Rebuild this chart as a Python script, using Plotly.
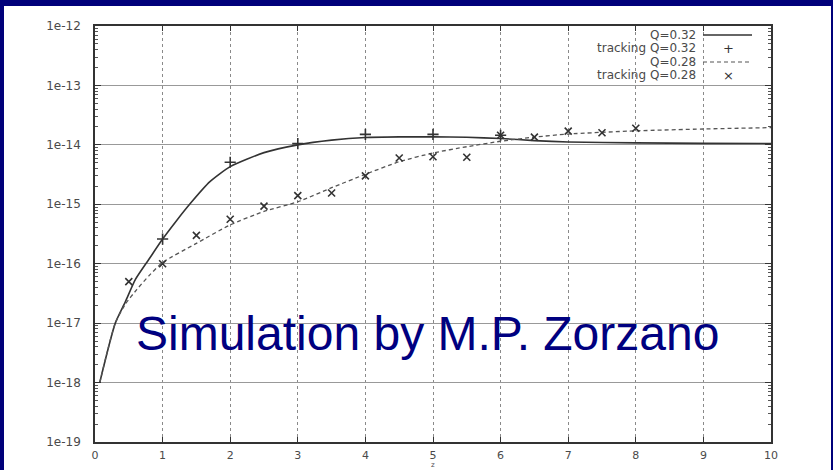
import plotly.graph_objects as go

# ---- data -------------------------------------------------------------
x_q32 = [0.07, 0.3, 0.45, 0.6, 0.8, 1.0, 1.2, 1.4, 1.7, 2.0, 2.5, 3.0, 3.5,
         4.0, 4.5, 5.0, 5.5, 6.0, 6.5, 7.0, 8.0, 9.0, 10.0]
y_q32 = [1e-18, 1e-17, 2.3e-17, 5.5e-17, 1.2e-16, 2.6e-16, 5.2e-16, 1.0e-15,
         2.4e-15, 4.3e-15, 7.4e-15, 1.0e-14, 1.2e-14, 1.33e-14, 1.36e-14,
         1.36e-14, 1.34e-14, 1.28e-14, 1.18e-14, 1.12e-14, 1.08e-14, 1.06e-14,
         1.05e-14]

x_q28 = [0.07, 0.3, 0.45, 0.62, 0.8, 1.0, 1.5, 2.0, 2.5, 3.0, 3.5, 4.0, 4.5,
         5.0, 5.5, 6.0, 6.5, 7.0, 8.0, 9.0, 10.0]
y_q28 = [1e-18, 1e-17, 2.1e-17, 3.7e-17, 6.3e-17, 1.05e-16, 2.2e-16, 4.5e-16,
         7.6e-16, 1.1e-15, 1.9e-15, 3.2e-15, 5.2e-15, 7.3e-15, 9.3e-15,
         1.15e-14, 1.35e-14, 1.52e-14, 1.72e-14, 1.85e-14, 1.95e-14]

x_trk32 = [1, 2, 3, 4, 5, 6]
y_trk32 = [2.6e-16, 5.1e-15, 1.05e-14, 1.5e-14, 1.5e-14, 1.45e-14]

x_trk28 = [0.5, 1, 1.5, 2, 2.5, 3, 3.5, 4, 4.5, 5, 5.5, 6, 6.5, 7, 7.5, 8]
y_trk28 = [5e-17, 1e-16, 3e-16, 5.6e-16, 9.3e-16, 1.4e-15, 1.55e-15, 3e-15,
           6e-15, 6.3e-15, 6.2e-15, 1.45e-14, 1.35e-14, 1.7e-14, 1.6e-14, 1.9e-14]

series_names = ["Q=0.32", "tracking Q=0.32", "Q=0.28", "tracking Q=0.28"]

x_ticks = list(range(0, 11))
y_exponents = list(range(-19, -11))
y_ticks = [10.0 ** e for e in y_exponents]
y_ticktext = ["1e%d" % e for e in y_exponents]
y_minor = [k * 10.0 ** e for e in range(-19, -12) for k in range(2, 10)]

# ---- layout geometry (pixels) -----------------------------------------
W, H = 833, 470
L, R, T, B = 95, 771, 26, 442
pw, ph = R - L, B - T


def px(xp):
    return (xp - L) / pw


def py(yp):
    return (B - yp) / ph


NAVY = "#00007a"
INK = "#333333"
TXT = "#4a4a4a"
GNU_FONT = dict(family="DejaVu Sans", size=12, color=TXT)

fig = go.Figure()

fig.add_trace(go.Scatter(x=x_q32, y=y_q32, mode="lines", name=series_names[0],
                         line=dict(color=INK, width=1.6, shape="spline", smoothing=0.6)))
fig.add_trace(go.Scatter(x=x_trk32, y=y_trk32, mode="markers", name=series_names[1],
                         marker=dict(symbol="cross-thin", size=8,
                                     line=dict(color=INK, width=1.6))))
fig.add_trace(go.Scatter(x=x_q28, y=y_q28, mode="lines", name=series_names[2],
                         line=dict(color="#555555", width=1.3, dash="4px,3px",
                                   shape="spline", smoothing=0.6)))
fig.add_trace(go.Scatter(x=x_trk28, y=y_trk28, mode="markers", name=series_names[3],
                         marker=dict(symbol="x-thin", size=7,
                                     line=dict(color=INK, width=1.6))))

# navy frame around the white sheet (left, top, right)
frame = dict(type="rect", xref="paper", yref="paper", layer="above",
             fillcolor=NAVY, line=dict(width=0))
shapes = [
    dict(frame, x0=px(-20), x1=px(4), y0=py(500), y1=py(-20)),
    dict(frame, x0=px(-20), x1=px(860), y0=py(6), y1=py(-20)),
    dict(frame, x0=px(831), x1=px(860), y0=py(500), y1=py(-20)),
]

annotations = []

# gnuplot-style key: text right-aligned, sample on the right
key_rows = [35, 48.5, 62, 75.5]
for name, yr in zip(series_names, key_rows):
    annotations.append(dict(x=px(698), y=py(yr), xref="paper", yref="paper",
                            text=name, showarrow=False, xanchor="right",
                            yanchor="middle", font=GNU_FONT))
shapes.append(dict(type="line", xref="paper", yref="paper",
                   x0=px(703), x1=px(752), y0=py(key_rows[0]), y1=py(key_rows[0]),
                   line=dict(color=INK, width=1.4)))
shapes.append(dict(type="line", xref="paper", yref="paper",
                   x0=px(703), x1=px(752), y0=py(key_rows[2]), y1=py(key_rows[2]),
                   line=dict(color="#555555", width=1.2, dash="4px,3px")))
annotations.append(dict(x=px(728), y=py(key_rows[1]), xref="paper", yref="paper",
                        text="+", showarrow=False, xanchor="center", yanchor="middle",
                        font=dict(family="DejaVu Sans", size=13, color=INK)))
annotations.append(dict(x=px(728), y=py(key_rows[3]), xref="paper", yref="paper",
                        text="×", showarrow=False, xanchor="center", yanchor="middle",
                        font=dict(family="DejaVu Sans", size=13, color=INK)))

# x-axis title at the bottom edge of the sheet
annotations.append(dict(x=5, y=py(470), xref="x", yref="paper", text="z",
                        showarrow=False, xanchor="center", yanchor="bottom",
                        borderpad=0,
                        font=dict(family="DejaVu Sans", size=7, color=TXT)))

# credit line
annotations.append(dict(x=px(134), y=py(333), xref="paper", yref="paper",
                        text="Simulation by M.P. Zorzano", showarrow=False,
                        xanchor="left", yanchor="middle",
                        font=dict(family="Liberation Sans", size=48, color="#000080")))

fig.update_layout(
    width=W, height=H,
    margin=dict(l=L, r=W - R, t=T, b=H - B, pad=0, autoexpand=False),
    paper_bgcolor="white",
    plot_bgcolor="white",
    showlegend=False,
    shapes=shapes,
    annotations=annotations,
)

fig.update_xaxes(
    range=[0, 10], tickvals=x_ticks, ticks="inside", ticklen=5, tickwidth=1.3,
    tickcolor=INK, showline=True, linecolor=INK, linewidth=1.6, mirror="ticks",
    showgrid=True, gridcolor="#8a8a8a", griddash="dot", gridwidth=1,
    zeroline=False, tickfont=dict(GNU_FONT, size=11), ticklabelstandoff=2,
    automargin=False,
)
fig.update_yaxes(
    type="log", range=[-19, -12], tickvals=y_ticks, ticktext=y_ticktext,
    ticks="inside", ticklen=6, tickwidth=1.3, tickcolor=INK,
    showline=True, linecolor=INK, linewidth=1.6, mirror="ticks",
    showgrid=True, gridcolor="#999999", gridwidth=1, zeroline=False,
    tickfont=GNU_FONT, ticklabelstandoff=10, automargin=False,
    minor=dict(tickvals=y_minor, ticks="inside", ticklen=3, tickcolor="#555555",
               showgrid=False),
)

fig.write_html("out.html")
